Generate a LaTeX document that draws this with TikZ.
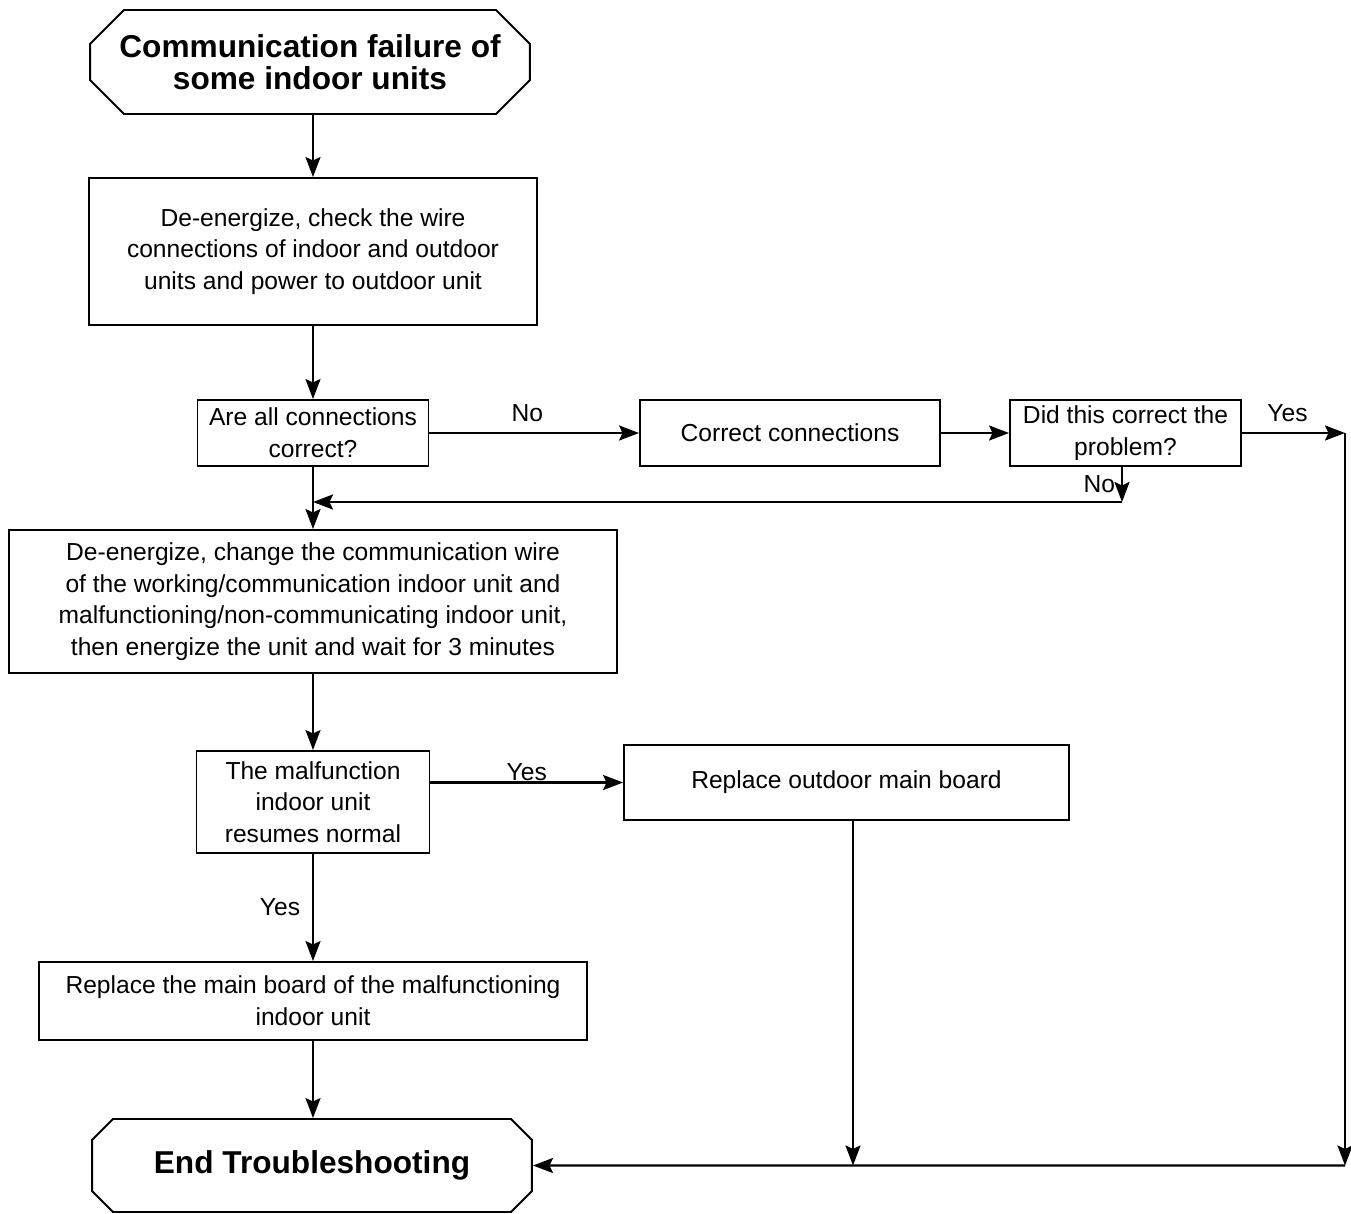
\documentclass[tikz,border=0pt]{standalone}
\usepackage{fontspec}
\setmainfont{Liberation Sans}
\usepackage{tikz}
\usetikzlibrary{shapes,shapes.misc,arrows,positioning}
\usetikzlibrary{arrows.meta}

\tikzset{
  stepbox/.style={draw, line width=1.1pt, align=center, inner sep=2pt,
    font=\fontsize{14}{18}\selectfont},
  endcap/.style={draw, line width=1.1pt, chamfered rectangle,
    chamfered rectangle xsep=0.62cm, align=center, inner sep=0pt,
    minimum width=8.8cm, font=\fontsize{18}{18.5}\selectfont\bfseries},
  flow/.style={line width=1.3pt, -{Stealth[length=0.4cm, width=0.3cm, inset=0.07cm]}},
  tag/.style={font=\fontsize{14}{18}\selectfont, inner sep=1pt}
}

\begin{document}
\begin{tikzpicture}[x=0.02cm, y=-0.02cm]
    \useasboundingbox (0,0) rectangle (1351,1213);

    % start / end terminators
    \node[endcap, minimum height=2.08cm] (start) at (310,62) {Communication failure of\\some indoor units};
    \node[endcap, minimum height=1.86cm] (stop) at (312,1165.5) {End Troubleshooting};

    % main column
    \node[stepbox, minimum width=8.96cm, minimum height=2.94cm] (deenergize) at (313,251.5)
        {De-energize, check the wire\\connections of indoor and outdoor\\units and power to outdoor unit};
    \node[stepbox, minimum width=4.62cm, minimum height=1.32cm] (allok) at (313,433)
        {Are all connections\\correct?};
    \node[stepbox, minimum width=12.16cm, minimum height=2.86cm] (swapwire) at (313,601.5)
        {De-energize, change the communication wire\\of the working/communication indoor unit and\\malfunctioning/non-communicating indoor unit,\\then energize the unit and wait for 3 minutes};
    \node[stepbox, minimum width=4.66cm, minimum height=2.04cm] (resumes) at (313,802)
        {The malfunction\\indoor unit\\resumes normal};
    \node[stepbox, minimum width=10.98cm, minimum height=1.56cm] (indoorbd) at (313,1001)
        {Replace the main board of the malfunctioning\\indoor unit};

    % right side
    \node[stepbox, minimum width=6.0cm, minimum height=1.32cm] (correct) at (790,433) {Correct connections};
    \node[stepbox, minimum width=4.62cm, minimum height=1.32cm] (fixed) at (1125.5,433)
        {Did this correct the\\problem?};
    \node[stepbox, minimum width=8.9cm, minimum height=1.5cm] (outdoorbd) at (846.5,782.5) {Replace outdoor main board};

    % joints
    \coordinate (yesright) at (1345,433);
    \coordinate (corner) at (1345,1165.5);
    \coordinate (nojoin) at (1122,502);
    \coordinate (nomerge) at (313,502);
    \coordinate (outjoin) at (853,1165.5);

    % connectors
    \draw[flow] (start.south -| deenergize) -- (deenergize);
    \draw[flow] (deenergize) -- (allok);
    \draw[flow] (allok) -- node[tag, midway, yshift=0.4cm, xshift=-0.14cm] {No} (correct);
    \draw[flow] (correct) -- (fixed);
    \draw[flow] (fixed) -- node[tag, midway, yshift=0.4cm, xshift=-0.12cm] {Yes} (yesright);
    \draw[flow] (yesright) -- (corner);
    \draw[flow] (corner) -- (stop);
    \draw[flow] (fixed.south -| nojoin) -- node[tag, midway, left=0.08cm] {No} (nojoin);
    \draw[flow] (nojoin) -- (nomerge);
    \draw[flow] (allok) -- (swapwire);
    \draw[flow] (swapwire) -- (resumes);
    \draw[flow] (resumes.east |- outdoorbd) -- node[tag, midway, yshift=0.2cm] {Yes} (outdoorbd);
    \draw[flow] (resumes) -- node[tag, midway, left=0.2cm] {Yes} (indoorbd);
    \draw[flow] (indoorbd) -- (stop.north -| indoorbd);
    \draw[flow] (outdoorbd.south -| outjoin) -- (outjoin);
\end{tikzpicture}
\end{document}
